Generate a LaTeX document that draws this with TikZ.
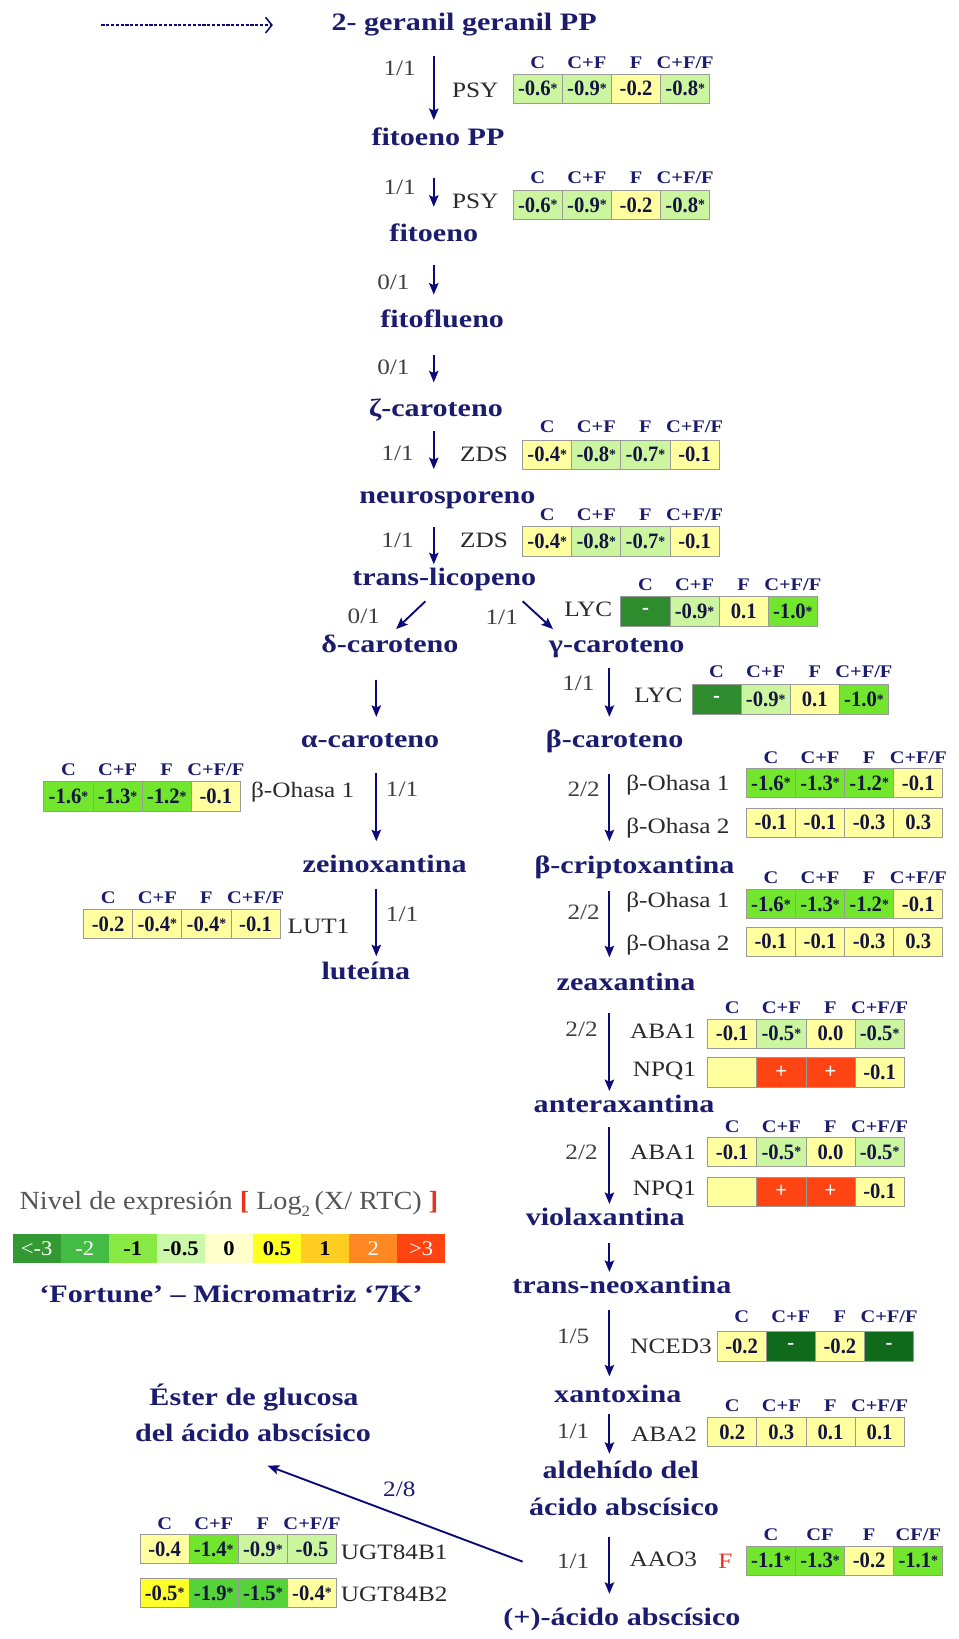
\documentclass[tikz,border=0pt]{standalone}
\usepackage{fontspec}
\setmainfont{Liberation Serif}
\newfontfamily\cmpfont[FakeStretch=1.2]{Liberation Serif}
\newfontfamily\labfont[FakeStretch=1.15]{Liberation Serif}
\newfontfamily\legfont[FakeStretch=1.08]{Liberation Serif}
\newfontfamily\numfont[FakeStretch=0.94]{Liberation Serif}
\usetikzlibrary{arrows.meta,calc}

% text and line colours
\definecolor{cmpblue}{HTML}{1C1C6E}
\definecolor{arrblue}{HTML}{0A0A78}
\definecolor{enzgray}{HTML}{2A2A2A}
\definecolor{ratgray}{HTML}{404040}
\definecolor{cellink}{HTML}{141440}
\definecolor{cellline}{HTML}{9A9A9A}
\definecolor{leggray}{HTML}{555555}
\definecolor{legred}{HTML}{E8321E}
% expression cell fills
\definecolor{cY}{HTML}{FFFFA0}
\definecolor{cYY}{HTML}{FFFF2A}
\definecolor{cLG}{HTML}{CCF5A0}
\definecolor{cG}{HTML}{72E62C}
\definecolor{cMG}{HTML}{55D43A}
\definecolor{cDG}{HTML}{2E8B2E}
\definecolor{cDDG}{HTML}{0F6A1C}
\definecolor{cR}{HTML}{FF4414}
% colour scale
\definecolor{lgA}{HTML}{339933}
\definecolor{lgB}{HTML}{44BB44}
\definecolor{lgC}{HTML}{88E844}
\definecolor{lgD}{HTML}{CCF8AA}
\definecolor{lgE}{HTML}{FFFFCC}
\definecolor{lgF}{HTML}{FFFF22}
\definecolor{lgG}{HTML}{FFCC22}
\definecolor{lgH}{HTML}{FF8822}
\definecolor{lgI}{HTML}{FF4411}

\newcommand\cellw{47}
\newcommand\cellh{28}
\newcommand\sig{\raisebox{0.1em}{\fontsize{14}{14}\selectfont *}}
\newcommand\wt[1]{\textcolor{white}{#1}}
% a row of column headings: name, left x, centre y, labels
\newcommand\hdrrow[4]{\foreach \hh [count=\i] in {#4}{\node[hdr] (#1-\i) at ({#2+(\i-0.5)*\cellw},#3) {\hh};}}
% a row of expression cells: name, left x, top y, fill/value pairs
\newcommand\cellrow[4]{\foreach \cf/\ct [count=\i] in {#4}{\node[cell,fill=\cf] (#1-\i) at ({#2+(\i-0.5)*\cellw},{#3+\cellh/2}) {\ct};}}

\begin{document}
\begin{tikzpicture}[x=1pt,y=-1pt,
  cmp/.style={font=\cmpfont\bfseries\fontsize{24}{24}\selectfont, text=cmpblue, inner sep=0pt, text height=17pt, text depth=6pt},
  enz/.style={font=\labfont\fontsize{21}{21}\selectfont, text=enzgray, inner sep=0pt},
  rat/.style={font=\labfont\fontsize{21}{21}\selectfont, text=ratgray, inner sep=0pt},
  hdr/.style={font=\labfont\bfseries\fontsize{17}{17}\selectfont, text=cmpblue, inner sep=0pt},
  cell/.style={draw=cellline, line width=0.8pt, minimum width=\cellw pt, minimum height=\cellh pt, inner sep=0pt, font=\numfont\bfseries\fontsize{21}{21}\selectfont, text=cellink},
  legcell/.style={minimum width=46pt, minimum height=27pt, inner sep=0pt, font=\legfont\fontsize{20}{20}\selectfont, text=black},
  arr/.style={draw=arrblue, line width=1.8pt, -{Stealth[length=11pt,width=9pt,inset=2pt]}},
  dasharr/.style={draw=arrblue, line width=1.6pt, dash pattern=on 3pt off 1.6pt, -{Straight Barb[length=6pt,width=15pt,line width=1.5pt]}}
]
\fill[white] (0,0) rectangle (917,1568);
\useasboundingbox (0,0) rectangle (917,1568);

% columns of the pathway arrows
\coordinate (xA) at (415,0);
\coordinate (xB) at (583,0);
\coordinate (xL) at (360,0);

% compounds
\node[cmp] (gpp) at (444,24) {2- geranil geranil PP};
\node[cmp] (fpp) at (419,134) {fitoeno PP};
\node[cmp] (fit) at (415,226) {fitoeno};
\node[cmp] (ffl) at (423,308) {fitoflueno};
\node[cmp] (zet) at (417,393) {ζ-caroteno};
\node[cmp] (neu) at (428,476) {neurosporeno};
\node[cmp] (tli) at (425,555) {trans-licopeno};
\node[cmp] (del) at (373,619) {δ-caroteno};
\node[cmp] (gam) at (590,619) {γ-caroteno};
\node[cmp] (alp) at (354,710) {α-caroteno};
\node[cmp] (bet) at (588,710) {β-caroteno};
\node[cmp] (zei) at (368,829) {zeinoxantina};
\node[cmp] (lut) at (350,932) {luteína};
\node[cmp] (bcr) at (607,830) {β-criptoxantina};
\node[cmp] (zea) at (599,942) {zeaxantina};
\node[cmp] (ant) at (597,1059) {anteraxantina};
\node[cmp] (vio) at (579,1167) {violaxantina};
\node[cmp] (tne) at (595,1232) {trans-neoxantina};
\node[cmp] (xan) at (591,1336) {xantoxina};
\node[cmp] (aldA) at (594,1409) {aldehído del};
\node[cmp] (aldB) at (597,1444) {ácido abscísico};
\node[cmp] (aba) at (595,1550) {(+)-ácido abscísico};
\node[cmp] (estA) at (243,1339) {Éster de glucosa};
\node[cmp] (estB) at (242,1374) {del ácido abscísico};

% incoming dashed arrow
\coordinate (dstart) at (97,24);
\draw[dasharr] (dstart) -- ($(gpp.west)+(-56,0)$);

% main chain
\draw[arr, shorten <=17.5pt, shorten >=7.5pt] (gpp.south -| xA) -- (fpp.north -| xA);
\draw[arr, shorten <=24.5pt, shorten >=16.5pt] (fpp.south -| xA) -- (fit.north -| xA);
\draw[arr, shorten <=15.5pt, shorten >=14.5pt] (fit.south -| xA) -- (ffl.north -| xA);
\draw[arr, shorten <=19.5pt, shorten >=15.5pt] (ffl.south -| xA) -- (zet.north -| xA);
\draw[arr, shorten <=7.5pt, shorten >=15.5pt] (zet.south -| xA) -- (neu.north -| xA);
\draw[arr, shorten <=16.5pt, shorten >=3.5pt] (neu.south -| xA) -- (tli.north -| xA);
\draw[arr] ($(tli.south)+(-18,8.5)$) -- ($(del.north)+(6,-5.5)$);
\draw[arr] ($(tli.south)+(75,8.5)$) -- ($(gam.north)+(-61,-5.5)$);
% alpha branch
\draw[arr, shorten <=19.5pt, shorten >=12.5pt] (del.south -| xL) -- (alp.north -| xL);
\draw[arr, shorten <=17.5pt, shorten >=12.5pt] (alp.south -| xL) -- (zei.north -| xL);
\draw[arr, shorten <=9.5pt, shorten >=5.5pt] (zei.south -| xL) -- (lut.north -| xL);
% beta branch
\draw[arr, shorten <=8.5pt, shorten >=12.5pt] (gam.south -| xB) -- (bet.north -| xB);
\draw[arr, shorten <=18.5pt, shorten >=13.5pt] (bet.south -| xB) -- (bcr.north -| xB);
\draw[arr, shorten <=10.5pt, shorten >=14.5pt] (bcr.south -| xB) -- (zea.north -| xB);
\draw[arr, shorten <=15.5pt, shorten >=3.5pt] (zea.south -| xB) -- (ant.north -| xB);
\draw[arr, shorten <=7.5pt, shorten >=3.5pt] (ant.south -| xB) -- (vio.north -| xB);
\draw[arr, shorten <=10.5pt, shorten >=3.5pt] (vio.south -| xB) -- (tne.north -| xB);
\draw[arr, shorten <=9.5pt, shorten >=7.5pt] (tne.south -| xB) -- (xan.north -| xB);
\draw[arr, shorten <=5.5pt, shorten >=6.5pt] (xan.south -| xB) -- (aldA.north -| xB);
\draw[arr, shorten <=14.5pt, shorten >=13.5pt] (aldB.south -| xB) -- (aba.north -| xB);
% glucosylation branch
\coordinate (ugt0) at (500,1494);
\draw[arr] (ugt0) -- ($(estB.south)+(14,16.5)$);

% gene ratios
\node[rat,anchor=east] (r1) at (398,65) {1/1};
\node[rat,anchor=east] (r2) at (398,179) {1/1};
\node[rat,anchor=east] (r3) at (392,270) {0/1};
\node[rat,anchor=east] (r4) at (392,351) {0/1};
\node[rat,anchor=east] (r5) at (396,434) {1/1};
\node[rat,anchor=east] (r6) at (396,517) {1/1};
\node[rat] (r7) at (348,590) {0/1};
\node[rat] (r8) at (480,591) {1/1};
\node[rat,anchor=east] (r9) at (569,654) {1/1};
\node[rat,anchor=west] (r10) at (369,755) {1/1};
\node[rat,anchor=west] (r11) at (369,875) {1/1};
\node[rat,anchor=east] (r12) at (574,755) {2/2};
\node[rat,anchor=east] (r13) at (574,873) {2/2};
\node[rat,anchor=east] (r14) at (572,985) {2/2};
\node[rat,anchor=east] (r15) at (572,1102) {2/2};
\node[rat,anchor=east] (r16) at (564,1278) {1/5};
\node[rat,anchor=east] (r17) at (564,1369) {1/1};
\node[rat,anchor=east] (r18) at (564,1494) {1/1};
\node[rat,text=cmpblue] (r19) at (382,1425) {2/8};

% enzyme genes
\node[enz,anchor=east] (e-psyA) at (477,86) {PSY};
\node[enz,anchor=east] (e-psyB) at (477,193) {PSY};
\node[enz,anchor=east] (e-zdsA) at (486,435) {ZDS};
\node[enz,anchor=east] (e-zdsB) at (486,517) {ZDS};
\node[enz,anchor=east] (e-lycA) at (586,583) {LYC};
\node[enz,anchor=east] (e-lycB) at (653,665) {LYC};
\node[enz,anchor=west] (e-bohL) at (240,758) {β-Ohasa 1};
\node[enz,anchor=west] (e-lut) at (275,886) {LUT1};
\node[enz,anchor=west] (e-bohA) at (599,751) {β-Ohasa 1};
\node[enz,anchor=west] (e-bohB) at (599,792) {β-Ohasa 2};
\node[enz,anchor=west] (e-bohC) at (599,863) {β-Ohasa 1};
\node[enz,anchor=west] (e-bohD) at (599,904) {β-Ohasa 2};
\node[enz,anchor=east] (e-abaA) at (666,987) {ABA1};
\node[enz,anchor=east] (e-npqA) at (666,1025) {NPQ1};
\node[enz,anchor=east] (e-abaB) at (666,1102) {ABA1};
\node[enz,anchor=east] (e-npqB) at (666,1138) {NPQ1};
\node[enz,anchor=east] (e-nced) at (681,1288) {NCED3};
\node[enz,anchor=east] (e-abaC) at (667,1372) {ABA2};
\node[enz,anchor=east] (e-aao) at (667,1492) {AAO3};
\node[enz,text=legred] (e-aaoF) at (694,1494) {F};
\node[enz,anchor=west] (e-ugtA) at (326,1485) {UGT84B1};
\node[enz,anchor=west] (e-ugtB) at (326,1525) {UGT84B2};

% expression tables
\hdrrow{psyA-h}{491}{60}{C,C+F,F,C+F/F}
\cellrow{psyA}{491}{71}{cLG/-0.6\sig,cLG/-0.9\sig,cY/-0.2,cLG/-0.8\sig}
\hdrrow{psyB-h}{491}{170}{C,C+F,F,C+F/F}
\cellrow{psyB}{491}{182}{cLG/-0.6\sig,cLG/-0.9\sig,cY/-0.2,cLG/-0.8\sig}
\hdrrow{zdsA-h}{500}{408}{C,C+F,F,C+F/F}
\cellrow{zdsA}{500}{421}{cY/-0.4\sig,cLG/-0.8\sig,cLG/-0.7\sig,cY/-0.1}
\hdrrow{zdsB-h}{500}{492}{C,C+F,F,C+F/F}
\cellrow{zdsB}{500}{504}{cY/-0.4\sig,cLG/-0.8\sig,cLG/-0.7\sig,cY/-0.1}
\hdrrow{lycA-h}{594}{559}{C,C+F,F,C+F/F}
\cellrow{lycA}{594}{571}{cDG/\wt{-},cLG/-0.9\sig,cY/0.1,cG/-1.0\sig}
\hdrrow{lycB-h}{662}{643}{C,C+F,F,C+F/F}
\cellrow{lycB}{662}{655}{cDG/\wt{-},cLG/-0.9\sig,cY/0.1,cG/-1.0\sig}
\hdrrow{bohL-h}{42}{736}{C,C+F,F,C+F/F}
\cellrow{bohL}{42}{748}{cG/-1.6\sig,cG/-1.3\sig,cG/-1.2\sig,cY/-0.1}
\hdrrow{lut-h}{80}{859}{C,C+F,F,C+F/F}
\cellrow{lut}{80}{870}{cY/-0.2,cY/-0.4\sig,cY/-0.4\sig,cY/-0.1}
\hdrrow{bohA-h}{714}{725}{C,C+F,F,C+F/F}
\cellrow{bohA}{714}{735}{cG/-1.6\sig,cG/-1.3\sig,cG/-1.2\sig,cY/-0.1}
\cellrow{bohB}{714}{773}{cY/-0.1,cY/-0.1,cY/-0.3,cY/0.3}
\hdrrow{bohC-h}{714}{840}{C,C+F,F,C+F/F}
\cellrow{bohC}{714}{851}{cG/-1.6\sig,cG/-1.3\sig,cG/-1.2\sig,cY/-0.1}
\cellrow{bohD}{714}{887}{cY/-0.1,cY/-0.1,cY/-0.3,cY/0.3}
\hdrrow{abaA-h}{677}{964}{C,C+F,F,C+F/F}
\cellrow{abaA}{677}{975}{cY/-0.1,cLG/-0.5\sig,cY/0.0,cLG/-0.5\sig}
\cellrow{npqA}{677}{1012}{cY/{},cR/\wt{+},cR/\wt{+},cY/-0.1}
\hdrrow{abaB-h}{677}{1078}{C,C+F,F,C+F/F}
\cellrow{abaB}{677}{1088}{cY/-0.1,cLG/-0.5\sig,cY/0.0,cLG/-0.5\sig}
\cellrow{npqB}{677}{1126}{cY/{},cR/\wt{+},cR/\wt{+},cY/-0.1}
\hdrrow{nced-h}{686}{1260}{C,C+F,F,C+F/F}
\cellrow{nced}{686}{1274}{cY/-0.2,cDDG/\wt{-},cY/-0.2,cDDG/\wt{-}}
\hdrrow{abaC-h}{677}{1345}{C,C+F,F,C+F/F}
\cellrow{abaC}{677}{1356}{cY/0.2,cY/0.3,cY/0.1,cY/0.1}
\hdrrow{aao-h}{714}{1468}{C,CF,F,CF/F}
\cellrow{aao}{714}{1479}{cG/-1.1\sig,cG/-1.3\sig,cY/-0.2,cG/-1.1\sig}
\hdrrow{ugt-h}{134}{1458}{C,C+F,F,C+F/F}
\cellrow{ugtA}{134}{1468}{cY/-0.4,cG/-1.4\sig,cLG/-0.9\sig,cLG/-0.5}
\cellrow{ugtB}{134}{1510}{cYY/-0.5\sig,cMG/-1.9\sig,cMG/-1.5\sig,cY/-0.4\sig}

% colour scale legend
\node[inner sep=0pt, font=\legfont\fontsize{25}{25}\selectfont, text=leggray] (legt) at (219,1152)
  {Nivel de expresión \textcolor{legred}{\textbf{[}} Log\raisebox{-0.25em}{\fontsize{15}{15}\selectfont 2}\,(X/ RTC) \textcolor{legred}{\textbf{]}}};
\foreach \cf/\ct [count=\i] in {lgA/\wt{<-3},lgB/\wt{-2},lgC/\textbf{-1},lgD/\textbf{-0.5},lgE/\textbf{0},lgF/\textbf{0.5},lgG/\textbf{1},lgH/\wt{2},lgI/\wt{>3}}
  {\node[legcell,fill=\cf] (leg-\i) at ({12+(\i-0.5)*46},1194.5) {\ct};}
\node[inner sep=0pt, font=\cmpfont\bfseries\fontsize{24}{24}\selectfont, text=cmpblue] (legf) at (221,1238) {‘Fortune’ – Micromatriz ‘7K’};
\end{tikzpicture}
\end{document}
